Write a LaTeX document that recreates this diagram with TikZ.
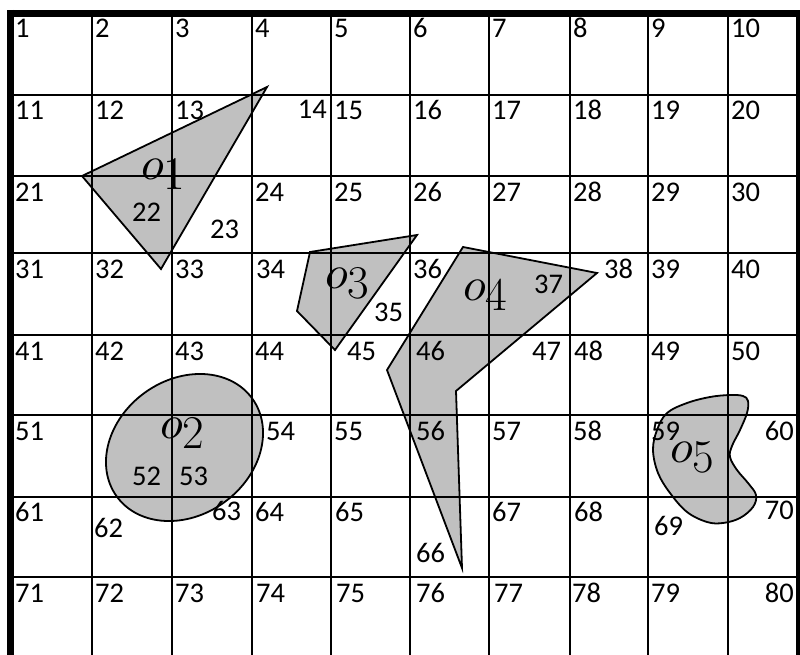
\documentclass[tikz,border=0pt]{standalone}
\usepackage{fontspec}
\DeclareFontShape{OML}{cmm}{m}{it}{<->cmmi10}{\skewchar\font=127}
\newfontfamily\numfont{Carlito}
\definecolor{shapegray}{RGB}{192,192,192}
\newcommand{\objlab}[1]{$o$\raisebox{-10pt}{#1}}
\begin{document}
\begin{tikzpicture}[x=1pt,y=-1pt,
  gridline/.style={line width=2.3pt},
  border/.style={line width=7pt},
  objshape/.style={fill=shapegray,draw=black,line width=1.8pt,line join=miter},
  num/.style={font=\numfont\fontsize{28.5}{30}\selectfont,inner sep=0pt,anchor=base west},
  numr/.style={num,anchor=base east},
  objtxt/.style={font=\fontsize{47}{49}\selectfont,inner sep=0pt,anchor=base west}]
\useasboundingbox (0,0) rectangle (800,655);
\fill[white] (0,0) rectangle (800,655);
% objects
\filldraw[objshape] (82,176) -- (267,87) -- (161,269) -- cycle;
\filldraw[objshape,rotate around={35.8:(184.5,447.5)}] (184.5,447.5) ellipse [x radius=83.6, y radius=67.7];
\filldraw[objshape] (310,252) -- (417,235) -- (335,350) -- (297,311) -- cycle;
\filldraw[objshape] (463,247) -- (597,273) -- (456,391) -- (462,568) -- (387,370) -- cycle;
\filldraw[objshape] plot[smooth cycle, tension=0.6] coordinates {(743,396) (748,401) (747,413) (740,430) (732,446) (730,457) (737,470) (748,483) (756,495) (753,507) (740,518) (723,523) (707,522) (687,512) (670,493) (658,473) (653,450) (657,430) (667,413) (687,403) (710,397) (730,395)};
% grid
\foreach \x in {92,172,252,331,410,489,570,648,728} \draw[gridline] (\x,13) -- (\x,660);
\foreach \y in {95,176,253,335,415,497,577} \draw[gridline] (10,\y) -- (800,\y);
\draw[border] (7,13.5) -- (805,13.5);
\draw[border] (10.5,10) -- (10.5,660);
\draw[border] (799.5,10) -- (799.5,660);
% cell numbers
\foreach \n/\x in {1/15,2/95,3/175,4/255,5/334,6/413,7/492,8/573,9/651,10/731}
  \node[num] (n\n) at (\x,38) {\n};
\foreach \n/\x in {11/15,12/95,13/175,15/334,16/413,17/492,18/573,19/651,20/731}
  \node[num] (n\n) at (\x,120) {\n};
\node[numr] (n14) at (327,119) {14};
\foreach \n/\x in {21/15,24/255,25/334,26/413,27/492,28/573,29/651,30/731}
  \node[num] (n\n) at (\x,201) {\n};
\node[num] (n22) at (132,222) {22};
\node[num] (n23) at (210,238) {23};
\foreach \n/\x in {31/15,32/95,33/175,34/256,36/413,39/651,40/731}
  \node[num] (n\n) at (\x,278) {\n};
\node[num] (n35) at (374,321) {35};
\node[num] (n37) at (534,293) {37};
\node[num] (n38) at (604,278) {38};
\foreach \n/\x in {41/15,42/95,43/175,44/255,45/347,46/416,47/532,48/574,49/651,50/731}
  \node[num] (n\n) at (\x,360) {\n};
\foreach \n/\x in {51/15,54/266,55/334,56/416,57/492,58/573,59/651}
  \node[num] (n\n) at (\x,440) {\n};
\node[num] (n52) at (132,485) {52};
\node[num] (n53) at (179,485) {53};
\node[numr] (n60) at (794,440) {60};
\foreach \n/\x in {61/15,64/255,65/335,67/492,68/574}
  \node[num] (n\n) at (\x,521) {\n};
\node[num] (n62) at (94,537) {62};
\node[num] (n63) at (212,520) {63};
\node[num] (n66) at (416,562) {66};
\node[num] (n69) at (654,535) {69};
\node[numr] (n70) at (794,519) {70};
\foreach \n/\x in {71/15,72/95,73/175,74/256,75/336,76/416,77/494,78/572,79/651}
  \node[num] (n\n) at (\x,602) {\n};
\node[numr] (n80) at (794,602) {80};
% object labels
\node[objtxt] (o1) at (141,179) {\objlab{1}};
\node[objtxt] (o2) at (160,438) {\objlab{2}};
\node[objtxt] (o3) at (325,288) {\objlab{3}};
\node[objtxt] (o4) at (463,300) {\objlab{4}};
\node[objtxt] (o5) at (670,462) {\objlab{5}};
\end{tikzpicture}
\end{document}
